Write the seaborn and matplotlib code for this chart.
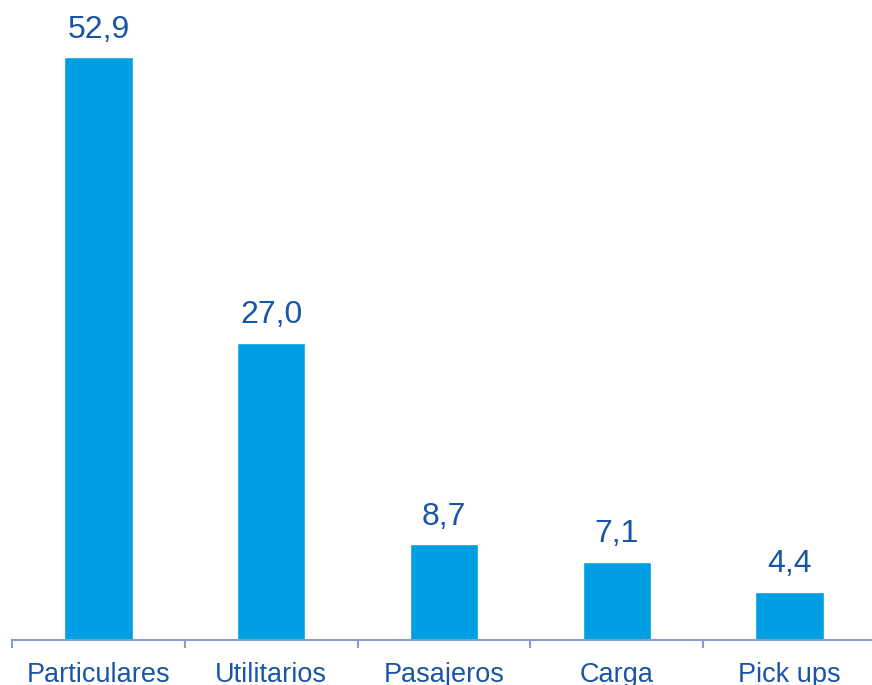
import matplotlib
matplotlib.use("Agg")
import matplotlib.pyplot as plt
import seaborn as sns
import pandas as pd
import numpy as np

categorias = ["Particulares", "Utilitarios", "Pasajeros", "Carga", "Pick ups"]
valores = [52.9, 27.0, 8.7, 7.1, 4.4]

BAR_COLOR = "#009FE3"
TEXT_COLOR = "#1A55A5"
AXIS_COLOR = "#8C9CC8"

sns.set_theme(style="white")
plt.rcParams["font.family"] = ["Liberation Sans", "DejaVu Sans"]

df = pd.DataFrame({"categoria": categorias, "valor": valores})

fig = plt.figure(figsize=(8.72, 6.85), dpi=100)
ax = fig.add_axes([12 / 872, 45 / 685, 864 / 872, 640 / 685])

sns.barplot(data=df, x="categoria", y="valor", color=BAR_COLOR,
            width=0.395, saturation=1, ax=ax)

ax.set_xlim(-0.5, len(categorias) - 0.5)
ax.set_ylim(0, 58.1)

for cont in ax.containers:
    ax.bar_label(cont, labels=[f"{v:.1f}".replace(".", ",") for v in valores],
                 padding=9, fontsize=23, color=TEXT_COLOR)

for side in ["top", "right", "left"]:
    ax.spines[side].set_visible(False)
ax.spines["bottom"].set_color(AXIS_COLOR)
ax.spines["bottom"].set_linewidth(1.5)

ax.set_yticks([])
ax.set_xlabel("")
ax.set_ylabel("")

# category labels centred under bars, tick marks at boundaries
ax.set_xticks(range(len(categorias)))
ax.set_xticklabels(categorias, fontsize=19.5, color=TEXT_COLOR)
ax.tick_params(axis="x", which="major", length=0, pad=15.5)
ax.set_xticks(np.arange(-0.5, len(categorias) + 0.5, 1), minor=True)
ax.tick_params(axis="x", which="minor", direction="out", length=6,
               width=1.5, color=AXIS_COLOR, bottom=True)

fig.savefig("out.png", dpi=100)
